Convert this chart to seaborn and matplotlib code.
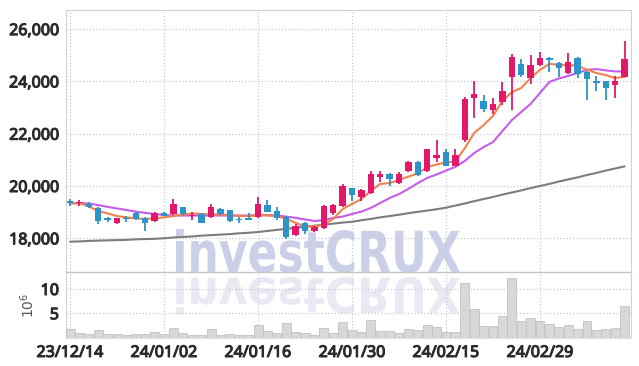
import numpy as np
import pandas as pd
import seaborn as sns
import matplotlib.pyplot as plt
import matplotlib.patheffects as pe
from matplotlib.textpath import TextPath
from matplotlib.patches import PathPatch
from matplotlib.font_manager import FontProperties
from matplotlib.transforms import Affine2D, IdentityTransform

# trading days (Korean market), 23/12/14 .. 24/03/14
dates = ['23/12/14', '23/12/15', '23/12/18', '23/12/19', '23/12/20', '23/12/21', '23/12/22', '23/12/26', '23/12/27', '23/12/28',
         '24/01/02', '24/01/03', '24/01/04', '24/01/05', '24/01/08', '24/01/09', '24/01/10', '24/01/11', '24/01/12', '24/01/15',
         '24/01/16', '24/01/17', '24/01/18', '24/01/19', '24/01/22', '24/01/23', '24/01/24', '24/01/25', '24/01/26', '24/01/29',
         '24/01/30', '24/01/31', '24/02/01', '24/02/02', '24/02/05', '24/02/06', '24/02/07', '24/02/08', '24/02/13', '24/02/14',
         '24/02/15', '24/02/16', '24/02/19', '24/02/20', '24/02/21', '24/02/22', '24/02/23', '24/02/26', '24/02/27', '24/02/28',
         '24/02/29', '24/03/04', '24/03/05', '24/03/06', '24/03/07', '24/03/08', '24/03/11', '24/03/12', '24/03/13', '24/03/14']

opens = [19420, 19330, 19300, 19140, 18760, 18600, 18760, 18960, 18770, 18670,
         18960, 18920, 19180, 18860, 18920, 18800, 19120, 19080, 18730, 18770,
         18800, 19270, 19050, 18800, 18130, 18600, 18280, 18410, 18950, 19240,
         19910, 19560, 19720, 20360, 20460, 20120, 20570, 20930, 20590, 21070,
         21300, 20780, 21740, 23350, 23240, 22900, 23220, 24180, 24670, 24120,
         24630, 24880, 24690, 24330, 24880, 24370, 24000, 24000, 23880, 24180]
highs = [19520, 19460, 19370, 19180, 18800, 18780, 18860, 19010, 18800, 19000,
         18990, 19500, 19200, 19010, 18950, 19310, 19140, 19100, 18830, 18960,
         19570, 19460, 19200, 18860, 18560, 18640, 18470, 19280, 19310, 20080,
         19930, 19890, 20590, 20590, 20480, 20550, 20970, 20970, 21420, 21740,
         21420, 21400, 23410, 24030, 23480, 23350, 23960, 25040, 24850, 25010,
         25120, 24950, 24760, 25100, 24930, 24400, 24220, 24010, 24220, 25530]
lows = [19250, 19240, 19150, 18560, 18620, 18540, 18630, 18690, 18280, 18640,
        18840, 18880, 18890, 18700, 18590, 18780, 18900, 18640, 18580, 18690,
        18760, 18990, 18690, 17960, 18090, 18150, 18240, 18370, 18900, 19200,
        19430, 19430, 19690, 20140, 19990, 20080, 20550, 20390, 20550, 20930,
        20750, 20750, 21680, 22600, 22810, 22740, 23100, 22900, 24160, 23900,
        24600, 24370, 24180, 24300, 24120, 23280, 23620, 23300, 23380, 24150]
closes = [19330, 19380, 19180, 18670, 18690, 18760, 18730, 18730, 18580, 18960,
          18860, 19310, 18920, 18900, 18600, 19180, 18920, 18670, 18680, 18700,
          19310, 19010, 18760, 18050, 18470, 18280, 18430, 19240, 19270, 20010,
          19650, 19850, 20440, 20440, 20250, 20460, 20930, 20430, 21400, 21170,
          20780, 21170, 23310, 23500, 22960, 23150, 23640, 24950, 24250, 24630,
          24880, 24820, 24520, 24760, 24290, 24080, 23950, 23760, 24010, 24860]

ma5 = [19340, 19340, 19220, 19040, 18950, 18850, 18800, 18760, 18740, 18760,
       18800, 18850, 18910, 18950, 18930, 18910, 18910, 18890, 18850, 18850,
       18870, 18870, 18850, 18740, 18590, 18450, 18450, 18530, 18740, 19120,
       19310, 19500, 19810, 20080, 20110, 20230, 20360, 20480, 20730, 20820,
       20900, 20940, 21450, 22030, 22330, 22680, 23250, 23590, 23750, 24130,
       24440, 24670, 24630, 24630, 24590, 24450, 24320, 24240, 24130, 24170]
ma10 = [19340, 19340, 19330, 19270, 19200, 19140, 19080, 19020, 18970, 18930,
        18890, 18870, 18870, 18870, 18870, 18870, 18870, 18870, 18870, 18870,
        18890, 18890, 18870, 18830, 18780, 18720, 18660, 18700, 18780, 18830,
        18930, 19020, 19160, 19350, 19540, 19690, 19890, 20110, 20310, 20440,
        20590, 20730, 20960, 21260, 21490, 21680, 22100, 22520, 22830, 23140,
        23560, 23980, 24110, 24210, 24320, 24440, 24470, 24420, 24380, 24380]
ma_long = [17870, 17880, 17900, 17910, 17920, 17930, 17940, 17960, 17970, 17980,
           18000, 18030, 18050, 18070, 18100, 18120, 18140, 18160, 18190, 18210,
           18240, 18280, 18320, 18360, 18400, 18440, 18480, 18520, 18560, 18600,
           18630, 18690, 18740, 18800, 18850, 18900, 18960, 19010, 19060, 19110,
           19170, 19250, 19330, 19420, 19500, 19580, 19670, 19750, 19830, 19920,
           20000, 20080, 20170, 20250, 20330, 20420, 20500, 20590, 20670, 20750]

# volume, millions of shares
volume = [1.75, 0.87, 0.66, 1.49, 0.72, 0.72, 0.45, 0.66, 0.66, 1.14,
          0.72, 1.90, 0.93, 0.45, 0.45, 1.69, 0.52, 0.72, 0.45, 0.45,
          2.58, 1.41, 0.93, 2.93, 1.14, 0.87, 0.59, 1.90, 0.93, 3.14,
          1.49, 1.14, 3.55, 1.34, 1.34, 0.93, 1.69, 1.55, 2.52, 2.10,
          1.14, 1.14, 11.2, 5.83, 2.31, 2.31, 4.38, 12.2, 3.35, 3.97,
          3.40, 2.79, 2.10, 2.52, 1.69, 3.35, 1.49, 1.69, 1.96, 6.45]

df = pd.DataFrame({'date': dates, 'open': opens, 'high': highs, 'low': lows, 'close': closes,
                   'ma5': ma5, 'ma10': ma10, 'ma_long': ma_long, 'volume': volume})
df['idx'] = np.arange(len(df))

UP = '#e2196b'
DOWN = '#2e93c6'
GRID = '#c6cadc'
TXT = '#2b2b2b'

sns.set_style('white')
plt.rcParams['font.family'] = ['Noto Sans', 'DejaVu Sans']
tick_font = dict(family='Noto Sans', weight='bold', stretch='semi-condensed', size=11.5,
                 path_effects=[pe.withStroke(linewidth=0.8, foreground=TXT)])

fig = plt.figure(figsize=(6.39, 3.66), dpi=100)
fig.patch.set_facecolor('white')
ax = fig.add_axes([0.1033, 0.2568, 0.8842, 0.7159])
axv = fig.add_axes([0.1033, 0.0765, 0.8842, 0.1803])
for a in (ax, axv):
    a.set_facecolor('none')

# watermark with reflection, behind both panels
fp = FontProperties(family='DejaVu Sans', weight='bold')
tp = TextPath((0, 0), 'investCRUX', size=100, prop=fp)
ext = tp.get_extents()
x0, x1 = 176, 460
top, base = 366 - 229, 366 - 273
sx = (x1 - x0) / ext.width
sy = (top - base) / ext.height
tr = Affine2D().translate(-ext.x0, -ext.y0).scale(sx, sy).translate(x0, base)
fig.add_artist(PathPatch(tr.transform_path(tp), transform=IdentityTransform(),
                         facecolor='#cbd0e8', lw=0, zorder=-2))
tr2 = Affine2D().translate(-ext.x0, -ext.y0).scale(sx, -sy * 0.85).translate(x0, base - 4)
fig.add_artist(PathPatch(tr2.transform_path(tp), transform=IdentityTransform(),
                         facecolor='#e8e9f3', lw=0, zorder=-2))

# moving averages
sns.lineplot(data=df, x='idx', y='ma_long', ax=ax, color='#7d7d7d', linewidth=1.5, zorder=2)
sns.lineplot(data=df, x='idx', y='ma10', ax=ax, color='#c75ce8', linewidth=1.5, zorder=2)
sns.lineplot(data=df, x='idx', y='ma5', ax=ax, color='#f0834c', linewidth=1.5, zorder=2)

# candles
colors = [UP if c >= o else DOWN for o, c in zip(df['open'], df['close'])]
ax.vlines(df['idx'], df['low'], df['high'], colors=colors, linewidth=1.3, zorder=3)
body_lo = np.minimum(df['open'], df['close'])
body_h = np.maximum(np.abs(df['close'] - df['open']), 25)
ax.bar(df['idx'], body_h, bottom=body_lo, width=0.68, color=colors, linewidth=0, zorder=4)

ax.set_xlim(-0.43, 59.68)
ax.set_ylim(16710, 26730)
ax.set_yticks([18000, 20000, 22000, 24000, 26000])
ax.set_yticklabels(['18,000', '20,000', '22,000', '24,000', '26,000'], **tick_font)
ax.set_xticks(range(0, 60, 10))
ax.set_xticklabels([])
ax.set_xlabel('')
ax.set_ylabel('')
ax.grid(True, linestyle=':', color=GRID, linewidth=0.9)
ax.tick_params(length=0, labelcolor=TXT, pad=5)
for side in ['left', 'right', 'top']:
    ax.spines[side].set_color('#d3d3d3')
    ax.spines[side].set_linewidth(0.8)
ax.spines['bottom'].set_color('#c4c4c4')
ax.spines['bottom'].set_linewidth(1.0)

# volume panel
sns.barplot(data=df, x='idx', y='volume', ax=axv, color='#d8d8d8', saturation=1,
            edgecolor='#c2c2c2', linewidth=0.6, width=0.95, zorder=3)
axv.set_xlim(-0.43, 59.68)
axv.set_ylim(-0.1, 13.5)
axv.set_yticks([5, 10])
axv.set_yticklabels(['5', '10'], **tick_font)
axv.set_xticks(range(0, 60, 10))
axv.set_xticklabels(dates[::10], **tick_font)
axv.set_xlabel('')
axv.set_ylabel('10$^6$', fontsize=10, color='#555555', family='DejaVu Sans', labelpad=3)
axv.grid(True, linestyle=':', color=GRID, linewidth=0.9)
axv.tick_params(length=0, labelcolor=TXT, pad=5)
for side in ['left', 'right']:
    axv.spines[side].set_color('#d3d3d3')
    axv.spines[side].set_linewidth(0.8)
axv.spines['top'].set_visible(False)
axv.spines['bottom'].set_color('#e0e0e0')

fig.savefig('out.png', dpi=100)
